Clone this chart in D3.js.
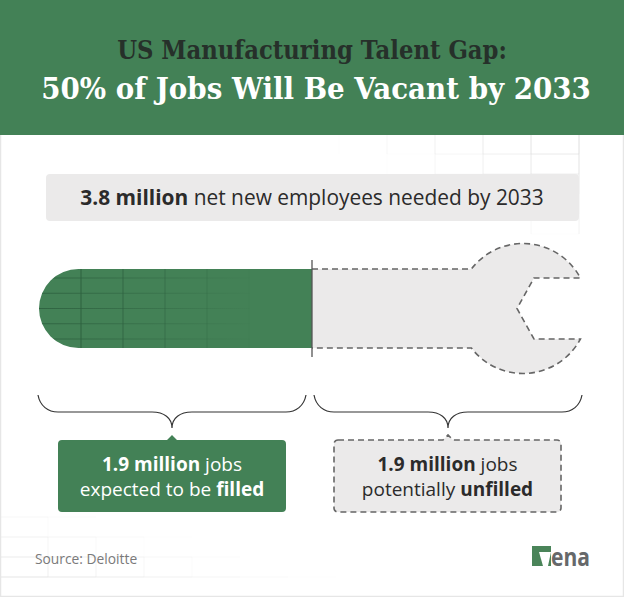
<!DOCTYPE html>
<html>
<head>
<meta charset="utf-8">
<script src="https://cdn.jsdelivr.net/npm/d3@7"></script>
<style>
  html, body { margin: 0; padding: 0; background: #fff; }
  svg { display: block; }
  text { font-family: 'Open Sans', sans-serif; }
  .title { font-family: 'DejaVu Serif', serif; font-weight: 700; text-anchor: middle; }
</style>
</head>
<body>
<svg></svg>
<script>
const titleLines = ['US Manufacturing Talent Gap:', '50% of Jobs Will Be Vacant by 2033']
const totalNeeded = 3.8
const filledJobs = 1.9
const unfilledJobs = 1.9
const headerLabel = [['3.8 million', true], [' net new employees needed by 2033', false]]
const filledLabel = [[['1.9 million', true], [' jobs', false]], [['expected to be ', false], ['filled', true]]]
const unfilledLabel = [[['1.9 million', true], [' jobs', false]], [['potentially ', false], ['unfilled', true]]]
const sourceLabel = 'Source: Deloitte'

const width = 624
const height = 597
const green = '#438156'
const panelGrey = '#ebeaea'
const dashGrey = '#666666'
const textDark = '#2b2b2b'

const svg = d3.select('svg').attr('width', width).attr('height', height)

// value -> pixel, the divider sits slightly right of the true middle in the original
const x = d3.scaleLinear()
            .domain([0, filledJobs, filledJobs + unfilledJobs])
            .range([39, 312, 581])
const barTop = 269
const barBottom = 348
const barMid = (barTop + barBottom) / 2

svg.append('rect').attr('width', width).attr('height', height).attr('fill', '#fff')

// faint background grids
const drawGrid = (xs, ys, opacityAt) => {
  const g = svg.append('g').attr('stroke', '#dcdcdc').attr('stroke-width', 1)
  xs.forEach(gx => {
    ys.slice(0, -1).forEach((gy, i) => {
      g.append('line').attr('x1', gx).attr('x2', gx).attr('y1', gy).attr('y2', ys[i + 1])
       .attr('opacity', opacityAt(gx, gy))
    })
  })
  ys.forEach(gy => {
    xs.slice(0, -1).forEach((gx, i) => {
      g.append('line').attr('x1', gx).attr('x2', xs[i + 1]).attr('y1', gy).attr('y2', gy)
       .attr('opacity', opacityAt(gx, gy))
    })
  })
}
drawGrid(d3.range(339, 624, 48), d3.range(134, 240, 20), (gx, gy) => Math.max(0, (gx - 340) / 240 - (gy - 135) / 130) * 0.9)
drawGrid(d3.range(0, 340, 48), d3.range(497, 597, 20), (gx, gy) => Math.max(0, (gy - 497) / 90 - gx / 340) * 0.8)

// page edge
svg.append('rect').attr('x', 0.5).attr('y', 0.5).attr('width', width - 1).attr('height', height - 1)
   .attr('fill', 'none').attr('stroke', '#e6e6e6').attr('stroke-width', 1.5)

// header band
svg.append('rect').attr('width', width).attr('height', 135).attr('fill', green)

// squeeze a text to the wanted width with a transform, so its box stays inside the page
const fitText = (sel, cx, y, w) => {
  const scale = w / sel.node().getComputedTextLength()
  sel.attr('transform', `translate(${cx},${y}) scale(${scale},1)`)
}
const title1 = svg.append('text').attr('class', 'title')
   .attr('font-size', 26.5).attr('fill', '#26302a').text(titleLines[0])
fitText(title1, 312, 59, 390)
const title2 = svg.append('text').attr('class', 'title')
   .attr('font-size', 30).attr('fill', '#fff').text(titleLines[1])
fitText(title2, 316, 99, 550)

const addRuns = (sel, runs) => {
  runs.forEach(([t, bold]) => {
    sel.append('tspan').attr('font-weight', bold ? 700 : 400).text(t)
  })
}

// total panel
svg.append('rect').attr('x', 46).attr('y', 174).attr('width', 533).attr('height', 47).attr('rx', 4)
   .attr('fill', panelGrey)
const total = svg.append('text').attr('x', 312).attr('y', 205).attr('text-anchor', 'middle')
   .attr('font-size', 20.9).attr('fill', textDark)
addRuns(total, headerLabel)

// wrench: unfilled part
const headR = 65
const headCx = x(totalNeeded) - 58
const jawTop = 278
const jawBottom = 339
const wrench = d3.path()
const handleDx = Math.sqrt(headR * headR - (barMid - barTop) * (barMid - barTop))
const jawDx = Math.sqrt(headR * headR - (barMid - jawTop) * (barMid - jawTop))
wrench.moveTo(x(filledJobs), barTop)
wrench.lineTo(headCx - handleDx, barTop)
wrench.arc(headCx, barMid, headR, Math.atan2(barTop - barMid, -handleDx), Math.atan2(jawTop - barMid, jawDx))
wrench.lineTo(headCx + 11, jawTop)
wrench.lineTo(headCx - 6, barMid)
wrench.lineTo(headCx + 11, jawBottom)
wrench.lineTo(headCx + jawDx, jawBottom)
wrench.arc(headCx, barMid, headR, Math.atan2(jawBottom - barMid, jawDx), Math.atan2(barBottom - barMid, -handleDx))
wrench.lineTo(x(filledJobs), barBottom)
svg.append('path').attr('d', wrench.toString()).attr('fill', panelGrey)
   .attr('stroke', dashGrey).attr('stroke-width', 1.6).attr('stroke-dasharray', '6 4')

// wrench: filled part
const r = (barBottom - barTop) / 2
const filled = d3.path()
filled.moveTo(x(filledJobs), barTop)
filled.lineTo(x(0) + r, barTop)
filled.arc(x(0) + r, barMid, r, -Math.PI / 2, Math.PI / 2, true)
filled.lineTo(x(filledJobs), barBottom)
filled.closePath()
svg.append('clipPath').attr('id', 'barClip').append('path').attr('d', filled.toString())
svg.append('path').attr('d', filled.toString()).attr('fill', green)

const barGrid = svg.append('g').attr('clip-path', 'url(#barClip)').attr('stroke', '#2c5f3e').attr('stroke-width', 1.2)
d3.range(81, 260, 42).forEach(gx => {
  barGrid.append('line').attr('x1', gx).attr('x2', gx).attr('y1', barTop).attr('y2', barBottom)
         .attr('opacity', 0.75 - (gx - 81) / 230)
})
const fade = svg.append('linearGradient').attr('id', 'fadeLine')
    .attr('gradientUnits', 'userSpaceOnUse').attr('x1', 39).attr('x2', 250).attr('y1', 0).attr('y2', 0)
fade.append('stop').attr('offset', 0).attr('stop-color', '#2c5f3e').attr('stop-opacity', 0.85)
fade.append('stop').attr('offset', 1).attr('stop-color', '#2c5f3e').attr('stop-opacity', 0.05)
d3.range(278, 345, 15.25).forEach(gy => {
  barGrid.append('path').attr('d', `M39,${gy}H250`).attr('stroke', 'url(#fadeLine)').attr('fill', 'none')
})

svg.append('line').attr('x1', x(filledJobs)).attr('x2', x(filledJobs)).attr('y1', 260).attr('y2', 357)
   .attr('stroke', '#555').attr('stroke-width', 1.3)

// braces under each part
const brace = (x0, x1, tip) => {
  const p = d3.path()
  const top = 395
  const mid = 412
  const bottom = 428
  p.moveTo(x0, top)
  p.bezierCurveTo(x0 + 2, mid - 6, x0 + 10, mid, x0 + 20, mid)
  p.lineTo(tip - 20, mid)
  p.bezierCurveTo(tip - 8, mid, tip, mid + 6, tip, bottom)
  p.bezierCurveTo(tip, mid + 6, tip + 8, mid, tip + 20, mid)
  p.lineTo(x1 - 20, mid)
  p.bezierCurveTo(x1 - 10, mid, x1 - 2, mid - 6, x1, top)
  svg.append('path').attr('d', p.toString()).attr('fill', 'none').attr('stroke', '#333').attr('stroke-width', 1.2)
}
brace(x(0) - 1, x(filledJobs) - 6, 172)
brace(x(filledJobs) + 2, x(totalNeeded) + 1, 448)

// callout boxes
const callout = (bx, bw, tip, dashed, lines) => {
  const by = 440
  const bh = 72
  const rr = 4
  const p = d3.path()
  p.moveTo(bx + rr, by)
  p.lineTo(tip - 5, by)
  p.lineTo(tip, by - 5)
  p.lineTo(tip + 5, by)
  p.lineTo(bx + bw - rr, by)
  p.arcTo(bx + bw, by, bx + bw, by + rr, rr)
  p.lineTo(bx + bw, by + bh - rr)
  p.arcTo(bx + bw, by + bh, bx + bw - rr, by + bh, rr)
  p.lineTo(bx + rr, by + bh)
  p.arcTo(bx, by + bh, bx, by + bh - rr, rr)
  p.lineTo(bx, by + rr)
  p.arcTo(bx, by, bx + rr, by, rr)
  p.closePath()
  const box = svg.append('path').attr('d', p.toString()).attr('fill', dashed ? panelGrey : green)
  if (dashed) box.attr('stroke', dashGrey).attr('stroke-width', 1.6).attr('stroke-dasharray', '6 4')
  lines.forEach((runs, i) => {
    const t = svg.append('text').attr('x', bx + bw / 2).attr('y', 471 + i * 25).attr('text-anchor', 'middle')
       .attr('font-size', 19).attr('fill', dashed ? textDark : '#fff')
    addRuns(t, runs)
  })
}
callout(58, 228, 172, false, filledLabel)
callout(334, 227, 448, true, unfilledLabel)

// footer
svg.append('text').attr('x', 35).attr('y', 564).attr('font-size', 13.8).attr('fill', '#7a7a7a').text(sourceLabel)

const logo = svg.append('g')
logo.append('rect').attr('x', 532).attr('y', 546).attr('width', 19).attr('height', 20).attr('fill', '#4a8459')
logo.append('path').attr('d', 'M539,552H551L548,566H543Z').attr('fill', '#fff')
const logoText = logo.append('text').attr('font-size', 25).attr('font-weight', 700)
    .attr('text-anchor', 'middle').attr('fill', '#66686a').text('ena')
fitText(logoText, 570.5, 566, 39)
</script>
</body>
</html>
